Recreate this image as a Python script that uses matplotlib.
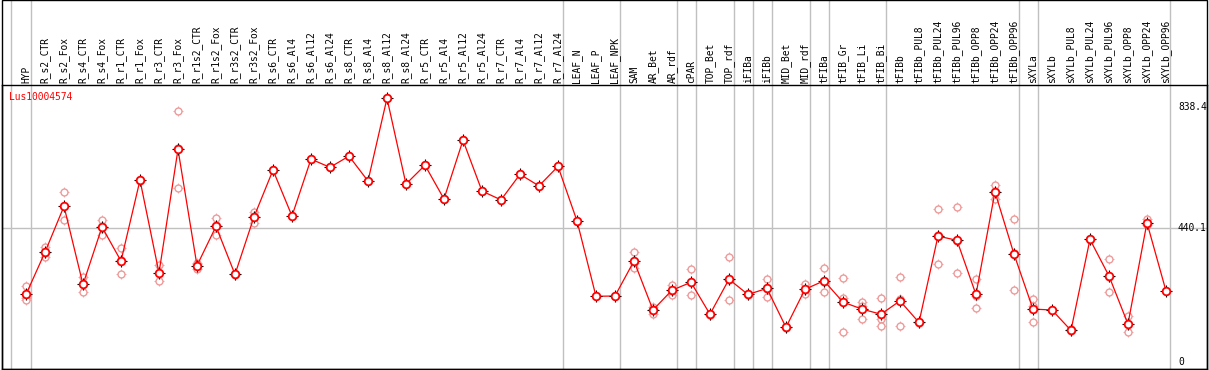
import matplotlib
matplotlib.use("Agg")
import matplotlib.pyplot as plt
import matplotlib.transforms as mtransforms
import numpy as np

# Sample names, left to right
samples = [
    "HYP", "R_s2_CTR", "R_s2_Fox", "R_s4_CTR", "R_s4_Fox", "R_r1_CTR", "R_r1_Fox",
    "R_r3_CTR", "R_r3_Fox", "R_r1s2_CTR", "R_r1s2_Fox", "R_r3s2_CTR", "R_r3s2_Fox",
    "R_s6_CTR", "R_s6_Al4", "R_s6_Al12", "R_s6_Al24", "R_s8_CTR", "R_s8_Al4",
    "R_s8_Al12", "R_s8_Al24", "R_r5_CTR", "R_r5_Al4", "R_r5_Al12", "R_r5_Al24",
    "R_r7_CTR", "R_r7_Al4", "R_r7_Al12", "R_r7_Al24", "LEAF_N", "LEAF_P", "LEAF_NPK",
    "SAM", "AR_Bet", "AR_rdf", "cPAR", "TOP_Bet", "TOP_rdf", "iFIBa", "iFIBb",
    "MID_Bet", "MID_rdf", "tFIBa", "tFIB_Gr", "tFIB_Li", "tFIB_Bi", "tFIBb",
    "tFIBb_PUL8", "tFIBb_PUL24", "tFIBb_PUL96", "tFIBb_OPP8", "tFIBb_OPP24",
    "tFIBb_OPP96", "sXYLa", "sXYLb", "sXYLb_PUL8", "sXYLb_PUL24", "sXYLb_PUL96",
    "sXYLb_OPP8", "sXYLb_OPP24", "sXYLb_OPP96",
]

# mean expression per sample
means = [
    221, 360, 511, 254, 443, 331, 597, 292, 698, 316, 445, 287, 476,
    630, 479, 666, 639, 676, 594, 866, 584, 646, 535, 728, 561,
    532, 616, 578, 642, 463, 215, 216,
    331, 170, 235, 261, 156, 271, 221, 241, 113, 238, 266,
    196, 173, 156, 200, 129, 413, 399, 221, 558, 354,
    173, 170, 103, 402, 282, 124, 457, 233,
]

# individual replicates
rep1 = [
    249, 376, 557, 277, 465, 373, 599, 318, 823, 323, 472, 289, 491,
    630, 479, 666, 639, 676, 594, 866, 584, 646, 535, 728, 561,
    532, 616, 578, 642, 463, 215, 216,
    360, 181, 253, 304, 158, 343, 224, 271, 115, 255, 307,
    274, 196, 208, 278, 131, 501, 509, 271, 580, 468,
    206, 171, 106, 404, 337, 151, 468, 234,
]
rep2 = [
    208, 345, 465, 228, 417, 287, 595, 266, 570, 305, 415, 284, 457,
    630, 479, 666, 639, 676, 594, 866, 584, 646, 535, 728, 561,
    532, 616, 578, 642, 463, 215, 216,
    326, 156, 219, 218, 155, 202, 218, 212, 110, 224, 228,
    208, 140, 139, 116, 127, 320, 291, 175, 535, 236,
    129, 169, 100, 400, 229, 98, 452, 232,
]
rep3 = [
    203, 358, 511, 257, 447, 333, 597, 292, 701, 320, 448, 288, 480,
    630, 479, 666, 639, 676, 594, 866, 584, 646, 535, 728, 561,
    532, 616, 578, 642, 463, 215, 216,
    307, 173, 233, 261, 155, 268, 221, 240, 113, 235, 263,
    98, 183, 117, 206, 129, 418, 397, 217, 560, 358,
    184, 170, 103, 402, 280, 123, 451, 233,
]

# vertical separators (category units, between sample groups)
group_lines = [-0.8, 0.25, 28.25, 31.25, 34.25, 35.25, 37.25, 38.25, 39.25,
               41.25, 42.25, 45.25, 52.25, 53.25, 60.2]

y_ticks = [0, 440.1, 838.4]
gene = "Lus10004574"

W, H = 1209, 370
fig = plt.figure(figsize=(W / 100, H / 100), dpi=100)
ax = fig.add_axes([1.7 / W, (H - 369.3) / H, (1207 - 1.7) / W, (369.3 - 85) / H])

x = np.arange(len(samples))
ax.set_xlim(-1.279, 62.16)
ax.set_ylim(-25.0, 909.7)

grid_col = "#c0c0c0"
ax.axhline(y_ticks[1], color=grid_col, lw=1, zorder=1)
top_frac = 369.3 / (369.3 - 85)
for g in group_lines:
    ax.axvline(g, ymin=0, ymax=top_frac, color=grid_col, lw=1, clip_on=False, zorder=1)

# replicates: hollow circle with little ticks outside
pale = "#ee9a9a"
for r in (rep1, rep2, rep3):
    ax.plot(x, r, ls="none", marker="+", ms=7, mew=0.6, color=pale, zorder=2)
    ax.plot(x, r, ls="none", marker="o", ms=5, mew=1, mfc="white", mec=pale, zorder=2)

# mean line
ax.plot(x, means, color="#ff0000", lw=0.9, zorder=3)
ax.plot(x, means, ls="none", marker="+", ms=8.5, mew=0.8, color="#000000", zorder=4)
ax.plot(x, means, ls="none", marker="o", ms=5.5, mew=1.3, mfc="white", mec="#ff0000", zorder=5)

# sample labels above the plot
lab_tr = mtransforms.blended_transform_factory(ax.transData, ax.transAxes)
for i, s in enumerate(samples):
    ax.text(i, 1.008, s, rotation=90, ha="center", va="bottom", transform=lab_tr,
            fontsize=6.9, family="DejaVu Sans Mono", clip_on=False)

# y values on the right side
for v in y_ticks:
    lbl = "0" if v == 0 else f"{v:.1f}"
    ax.text(60.63, v, lbl, ha="left", va="center", fontsize=6.9,
            family="DejaVu Sans Mono", color="black")

ax.text(0.0063, 0.959, gene, transform=ax.transAxes, ha="left", va="center",
        fontsize=6.9, family="DejaVu Sans Mono", color="#ff0000")

ax.set_xticks([])
ax.set_yticks([])
for sp in ax.spines.values():
    sp.set_linewidth(1)
    sp.set_color("black")

# outer frame round the whole picture (label area included)
frame = plt.Rectangle((1.7 / W, (H - 369.3) / H), (1207 - 1.7) / W, 369.3 / H - 0.001,
                      transform=fig.transFigure, fill=False, lw=1, ec="black")
fig.patches.append(frame)

fig.savefig("out.png", dpi=100)
